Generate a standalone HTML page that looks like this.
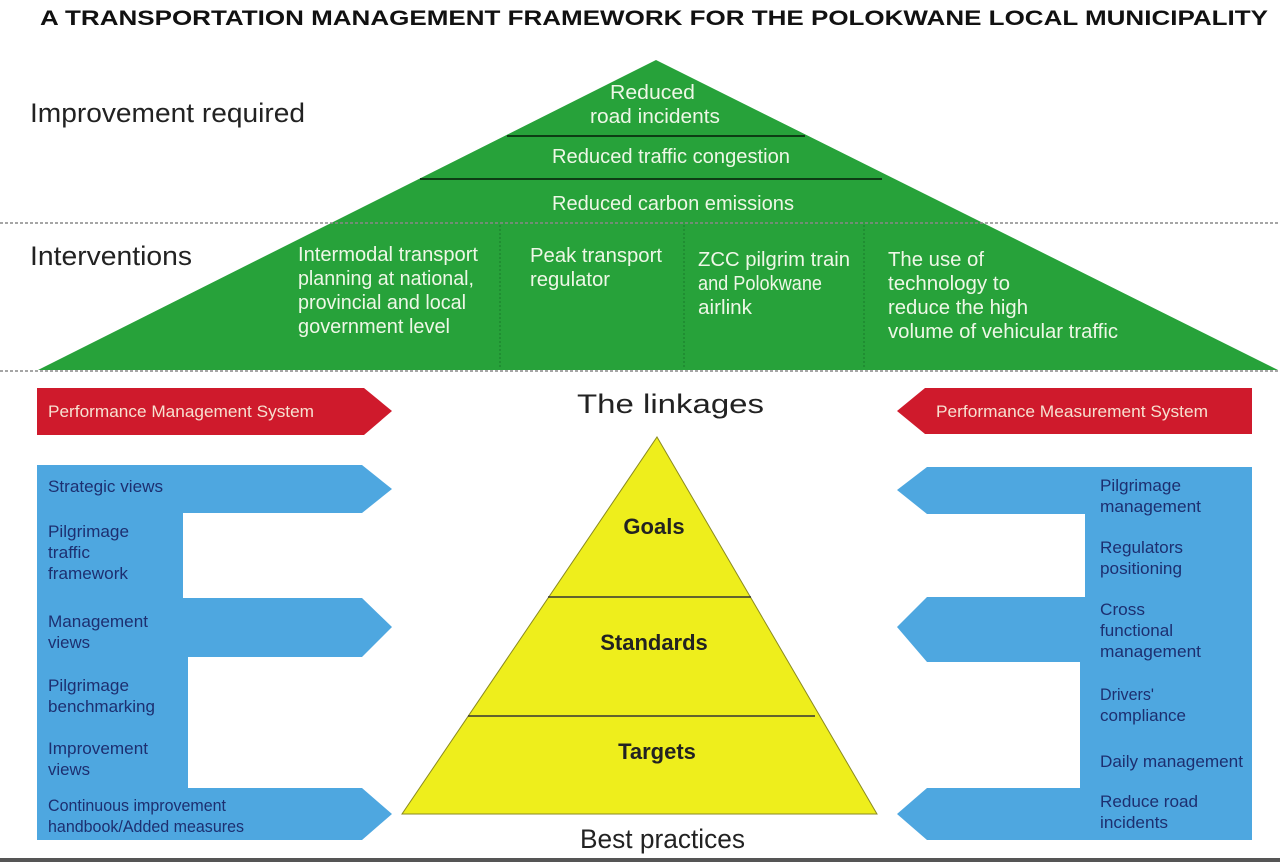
<!DOCTYPE html>
<html><head><meta charset="utf-8"><style>
html,body{margin:0;padding:0;background:#fff;}
svg{display:block;font-family:"Liberation Sans",Arial,sans-serif;}
</style></head><body>
<svg width="1280" height="865" viewBox="0 0 1280 865" xmlns="http://www.w3.org/2000/svg">
<text x="40" y="25" font-size="21" font-weight="bold" fill="#111" textLength="1228" lengthAdjust="spacingAndGlyphs">A TRANSPORTATION MANAGEMENT FRAMEWORK FOR THE POLOKWANE LOCAL MUNICIPALITY</text>
<polygon points="656,60 1278,370 38,370" fill="#27a23a"/>
<line x1="507" y1="136" x2="805" y2="136" stroke="#0d3d14" stroke-width="2"/>
<line x1="420" y1="179" x2="882" y2="179" stroke="#0d3d14" stroke-width="2"/>
<line x1="0" y1="223" x2="1280" y2="223" stroke="#888" stroke-width="1.5" stroke-dasharray="3,2"/>
<line x1="0" y1="371" x2="1280" y2="371" stroke="#888" stroke-width="1.5" stroke-dasharray="3,2"/>
<g stroke="#1a7a2a" stroke-width="1" stroke-dasharray="2,2">
<line x1="500" y1="225" x2="500" y2="369"/><line x1="684" y1="225" x2="684" y2="369"/><line x1="864" y1="225" x2="864" y2="369"/>
</g>
<g fill="#eef7e6" font-size="20" lengthAdjust="spacingAndGlyphs">
<text x="610" y="99" textLength="85" lengthAdjust="spacingAndGlyphs">Reduced</text>
<text x="590" y="123" textLength="130" lengthAdjust="spacingAndGlyphs">road incidents</text>
<text x="552" y="163" textLength="238" lengthAdjust="spacingAndGlyphs">Reduced traffic congestion</text>
<text x="552" y="210" textLength="242" lengthAdjust="spacingAndGlyphs">Reduced carbon emissions</text>
<text x="298" y="261" textLength="180" lengthAdjust="spacingAndGlyphs">Intermodal transport</text>
<text x="298" y="285" textLength="176" lengthAdjust="spacingAndGlyphs">planning at national,</text>
<text x="298" y="309" textLength="168" lengthAdjust="spacingAndGlyphs">provincial and local</text>
<text x="298" y="333" textLength="152" lengthAdjust="spacingAndGlyphs">government level</text>
<text x="530" y="262" textLength="132" lengthAdjust="spacingAndGlyphs">Peak transport</text>
<text x="530" y="286" textLength="80" lengthAdjust="spacingAndGlyphs">regulator</text>
<text x="698" y="266" textLength="152" lengthAdjust="spacingAndGlyphs">ZCC pilgrim train</text>
<text x="698" y="290" textLength="124" lengthAdjust="spacingAndGlyphs">and Polokwane</text>
<text x="698" y="314" textLength="54" lengthAdjust="spacingAndGlyphs">airlink</text>
<text x="888" y="266" textLength="96" lengthAdjust="spacingAndGlyphs">The use of</text>
<text x="888" y="290" textLength="122" lengthAdjust="spacingAndGlyphs">technology to</text>
<text x="888" y="314" textLength="140" lengthAdjust="spacingAndGlyphs">reduce the high</text>
<text x="888" y="338" textLength="230" lengthAdjust="spacingAndGlyphs">volume of vehicular traffic</text>
</g>
<g fill="#222" font-size="27">
<text x="30" y="122" textLength="275" lengthAdjust="spacingAndGlyphs">Improvement required</text>
<text x="30" y="265" textLength="162" lengthAdjust="spacingAndGlyphs">Interventions</text>
<text x="577" y="413" textLength="187" lengthAdjust="spacingAndGlyphs">The linkages</text>
<text x="580" y="848" textLength="165" lengthAdjust="spacingAndGlyphs">Best practices</text>
</g>
<polygon points="37,388 364,388 392,411 364,435 37,435" fill="#cf1a2c"/>
<polygon points="1252,388 925,388 897,411 925,434 1252,434" fill="#cf1a2c"/>
<text x="48" y="417" font-size="17" fill="#f7e0d0" textLength="266" lengthAdjust="spacingAndGlyphs">Performance Management System</text>
<text x="936" y="417" font-size="17" fill="#f7e0d0" textLength="272" lengthAdjust="spacingAndGlyphs">Performance Measurement System</text>
<polygon points="37,465 362,465 392,489 362,513 183,513 183,598 362,598 392,627 362,657 188,657 188,788 362,788 392,814 362,840 37,840" fill="#4ea7e0"/>
<polygon points="1252,467 927,467 897,490 927,514 1085,514 1085,597 927,597 897,627 927,662 1080,662 1080,788 927,788 897,814 927,840 1252,840" fill="#4ea7e0"/>
<g fill="#1d2f70" font-size="17">
<text x="48" y="492" textLength="115" lengthAdjust="spacingAndGlyphs">Strategic views</text>
<text x="48" y="537" textLength="81" lengthAdjust="spacingAndGlyphs">Pilgrimage</text><text x="48" y="558" textLength="42" lengthAdjust="spacingAndGlyphs">traffic</text><text x="48" y="579" textLength="80" lengthAdjust="spacingAndGlyphs">framework</text>
<text x="48" y="627" textLength="100" lengthAdjust="spacingAndGlyphs">Management</text><text x="48" y="648" textLength="42" lengthAdjust="spacingAndGlyphs">views</text>
<text x="48" y="691" textLength="81" lengthAdjust="spacingAndGlyphs">Pilgrimage</text><text x="48" y="712" textLength="107" lengthAdjust="spacingAndGlyphs">benchmarking</text>
<text x="48" y="754" textLength="100" lengthAdjust="spacingAndGlyphs">Improvement</text><text x="48" y="775" textLength="42" lengthAdjust="spacingAndGlyphs">views</text>
<text x="48" y="811" textLength="178" lengthAdjust="spacingAndGlyphs">Continuous improvement</text><text x="48" y="832" textLength="196" lengthAdjust="spacingAndGlyphs">handbook/Added measures</text>
<text x="1100" y="491" textLength="81" lengthAdjust="spacingAndGlyphs">Pilgrimage</text><text x="1100" y="512" textLength="101" lengthAdjust="spacingAndGlyphs">management</text>
<text x="1100" y="553" textLength="83" lengthAdjust="spacingAndGlyphs">Regulators</text><text x="1100" y="574" textLength="82" lengthAdjust="spacingAndGlyphs">positioning</text>
<text x="1100" y="615" textLength="45" lengthAdjust="spacingAndGlyphs">Cross</text><text x="1100" y="636" textLength="73" lengthAdjust="spacingAndGlyphs">functional</text><text x="1100" y="657" textLength="101" lengthAdjust="spacingAndGlyphs">management</text>
<text x="1100" y="700" textLength="54" lengthAdjust="spacingAndGlyphs">Drivers'</text><text x="1100" y="721" textLength="86" lengthAdjust="spacingAndGlyphs">compliance</text>
<text x="1100" y="767" textLength="143" lengthAdjust="spacingAndGlyphs">Daily management</text>
<text x="1100" y="807" textLength="98" lengthAdjust="spacingAndGlyphs">Reduce road</text><text x="1100" y="828" textLength="68" lengthAdjust="spacingAndGlyphs">incidents</text>
</g>
<polygon points="657,437 877,814 402,814" fill="#eeee1c" stroke="#8a8a20" stroke-width="1"/>
<line x1="548" y1="597" x2="751" y2="597" stroke="#333" stroke-width="1.5"/>
<line x1="468" y1="716" x2="815" y2="716" stroke="#333" stroke-width="1.5"/>
<g fill="#222" font-size="22" font-weight="bold" text-anchor="middle">
<text x="654" y="534">Goals</text>
<text x="654" y="650">Standards</text>
<text x="657" y="759">Targets</text>
</g>
<rect x="0" y="858" width="1280" height="4" fill="#555"/>
</svg>
</body></html>
